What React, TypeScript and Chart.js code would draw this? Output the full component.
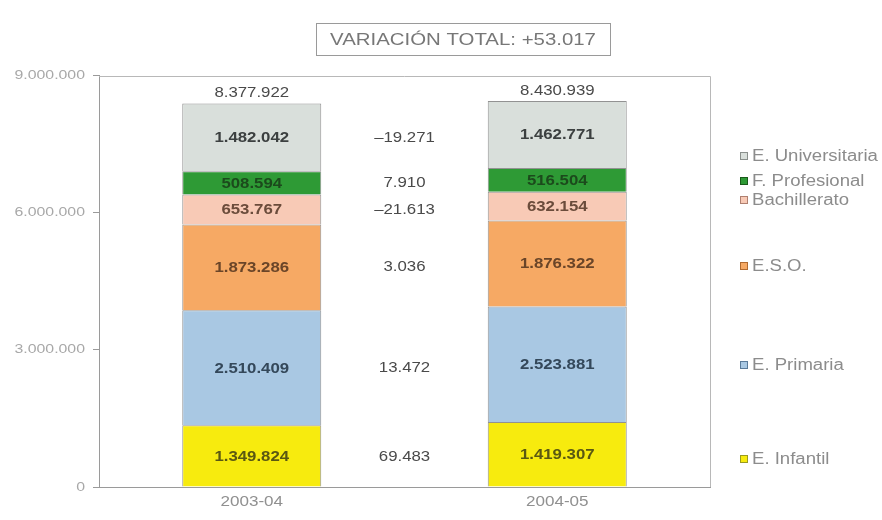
import React, { useEffect, useRef } from "react";
import { Chart, registerables } from "chart.js";

Chart.register(...registerables);

const categories = ["2003-04", "2004-05"];
const seriesNames = ["E. Infantil", "E. Primaria", "E.S.O.", "Bachillerato", "F. Profesional", "E. Universitaria"];
const infantil = [1349824, 1419307];
const primaria = [2510409, 2523881];
const eso = [1873286, 1876322];
const bachillerato = [653767, 632154];
const fProfesional = [508594, 516504];
const universitaria = [1482042, 1462771];
const yTicks = [0, 3000000, 6000000, 9000000];
const titleText = "VARIACIÓN TOTAL: +53.017";

const seriesValues = [infantil, primaria, eso, bachillerato, fProfesional, universitaria];
const fillColors = ["#f7eb0e", "#a9c8e3", "#f6a964", "#f8cab6", "#2e9a35", "#d9dfdb"];
const textColors = ["#5a5812", "#34485a", "#6a4528", "#6b4c3b", "#1c4a1c", "#3c4040"];
const markerBorders = ["#9a9a20", "#5a7a9a", "#b06a30", "#b08070", "#1a5a1a", "#8a8f8c"];
// legend anchor positions expressed in y-axis units
const legendAnchors = [610000, 2665000, 4830000, 6270000, 6680000, 7230000];

const fmt = (n: number) => {
  const s = Math.abs(Math.round(n)).toString().replace(/\B(?=(\d{3})+(?!\d))/g, ".");
  return (n < 0 ? "–" : "") + s;
};

const FONT = "'Liberation Sans', Arial, Helvetica, sans-serif";
const SX = 1.2;

function txt(ctx: CanvasRenderingContext2D, s: string, x: number, y: number, font: string, color: string, align: CanvasTextAlign = "center", sx = SX) {
  ctx.save();
  ctx.font = font;
  ctx.fillStyle = color;
  ctx.textAlign = align;
  ctx.textBaseline = "middle";
  ctx.translate(x, y);
  ctx.scale(sx, 1);
  ctx.fillText(s, 0, 0);
  ctx.restore();
}

const overlay = {
  id: "overlay",
  afterDraw(chart: any) {
    const ctx = chart.ctx as CanvasRenderingContext2D;
    const ca = chart.chartArea;
    const xs = chart.scales.x;
    const ys = chart.scales.y;
    ctx.save();
    // frame top and right
    ctx.strokeStyle = "#b8b8b8";
    ctx.lineWidth = 1;
    ctx.beginPath();
    ctx.moveTo(ca.left, ca.top + 1.5);
    ctx.lineTo(ca.right + 0.5, ca.top + 1.5);
    ctx.lineTo(ca.right + 0.5, ca.bottom);
    ctx.stroke();

    // y tick labels
    yTicks.forEach((v) => {
      txt(ctx, fmt(v), ca.left - 14, ys.getPixelForValue(v), `13px ${FONT}`, "#a8a8a8", "right", 1.22);
    });
    // x tick labels
    categories.forEach((c, i) => {
      txt(ctx, c, xs.getPixelForValue(i), ca.bottom + 15, `14px ${FONT}`, "#909090", "center", 1.22);
    });

    // segment labels
    chart.data.datasets.forEach((ds: any, di: number) => {
      const meta = chart.getDatasetMeta(di);
      meta.data.forEach((el: any, i: number) => {
        const yc = (el.y + el.base) / 2;
        txt(ctx, fmt(ds.data[i]), el.x, yc + 1, `bold 14px ${FONT}`, textColors[di]);
      });
    });

    // totals
    const n = categories.length;
    const totals = categories.map((_, i) => seriesValues.reduce((a, s) => a + s[i], 0));
    const topMeta = chart.getDatasetMeta(seriesValues.length - 1);
    topMeta.data.forEach((el: any, i: number) => {
      txt(ctx, fmt(totals[i]), el.x, el.y - 10, `14px ${FONT}`, "#4a4a4a");
    });

    // differences
    const midX = (xs.getPixelForValue(0) + xs.getPixelForValue(n - 1)) / 2;
    seriesValues.forEach((s, si) => {
      const below = (i: number) => seriesValues.slice(0, si).reduce((a, v) => a + v[i], 0);
      const c0 = below(0) + s[0] / 2;
      const c1 = below(1) + s[1] / 2;
      const y = ys.getPixelForValue((c0 + c1) / 2);
      txt(ctx, fmt(s[1] - s[0]), midX, y + 2, `14px ${FONT}`, "#4a4a4a");
    });

    // legend
    seriesNames.forEach((name, si) => {
      const y = Math.round(ys.getPixelForValue(legendAnchors[si]));
      const lx = ca.right + 30;
      ctx.fillStyle = fillColors[si];
      ctx.fillRect(lx, y - 4, 8, 8);
      ctx.strokeStyle = markerBorders[si];
      ctx.strokeRect(lx + 0.5, y - 3.5, 7, 7);
      txt(ctx, name, lx + 12, y + 1, `16px ${FONT}`, "#8c8c8c", "left", 1.16);
    });

    // title box
    ctx.strokeStyle = "#9a9a9a";
    ctx.strokeRect(316.5, 23.5, 294, 32);
    txt(ctx, titleText, 463, 40, `17px ${FONT}`, "#777", "center", 1.2);
    ctx.restore();
  },
};

export default function App() {
  const ref = useRef<HTMLCanvasElement>(null);
  useEffect(() => {
    document.body.style.margin = "0";
    const chart = new Chart(ref.current!, {
      type: "bar",
      data: {
        labels: categories,
        datasets: seriesValues.map((vals, i) => ({
          label: seriesNames[i],
          data: vals,
          backgroundColor: fillColors[i],
          borderColor: "rgba(110,110,110,0.75)",
          borderWidth: 1,
          barPercentage: 0.455,
          categoryPercentage: 1,
        })),
      },
      options: {
        responsive: false,
        animation: false,
        devicePixelRatio: 1,
        layout: { padding: { left: 0, right: 172, top: 75, bottom: 0 } },
        plugins: { legend: { display: false }, tooltip: { enabled: false }, title: { display: false } },
        scales: {
          x: {
            stacked: true,
            grid: { display: false },
            border: { display: true, color: "#9a9a9a" },
            ticks: { color: "rgba(0,0,0,0)", font: { size: 12, family: FONT }, padding: 8 },
            afterFit: (s: any) => { s.height = 33; },
          },
          y: {
            stacked: true,
            min: 0,
            max: 9000000,
            afterBuildTicks: (s: any) => { s.ticks = yTicks.map((v) => ({ value: v })); },
            grid: { display: true, drawOnChartArea: false, tickLength: 6, color: "#9a9a9a" },
            border: { display: true, color: "#9a9a9a" },
            ticks: {
              color: "rgba(0,0,0,0)",
              font: { size: 12, family: FONT },
              padding: 3,
              callback: (v: any) => fmt(Number(v)),
            },
            afterFit: (s: any) => { s.width = 99; },
          },
        },
      },
      plugins: [overlay],
    });
    return () => chart.destroy();
  }, []);
  return <canvas ref={ref} width={882} height={520} style={{ display: "block" }} />;
}
